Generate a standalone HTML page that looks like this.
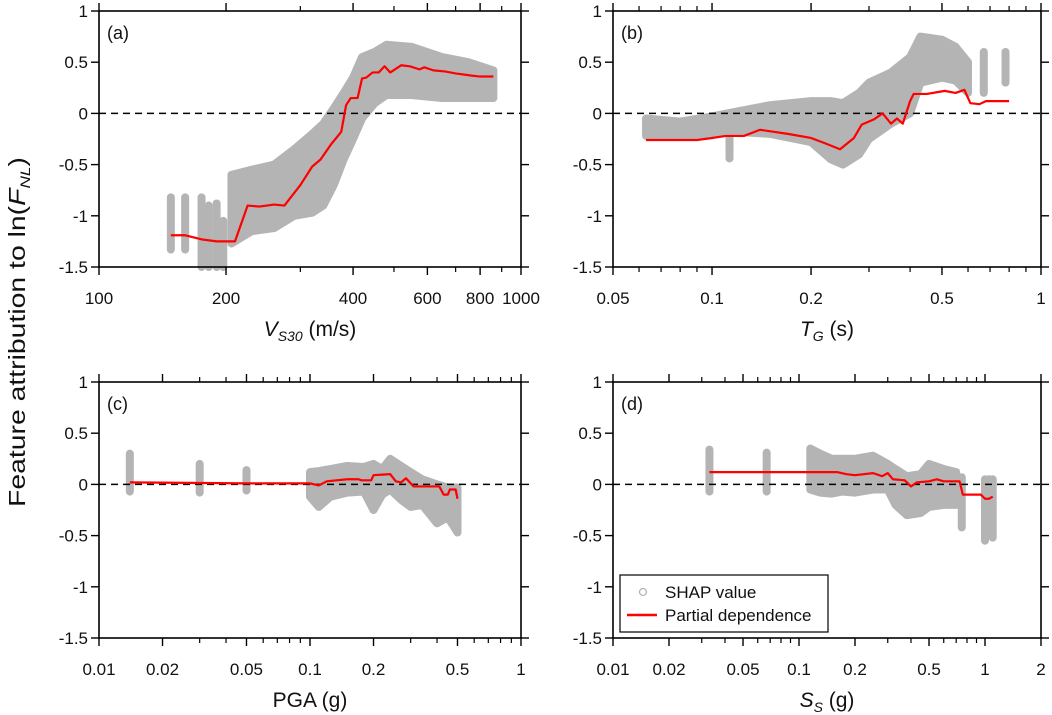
<!DOCTYPE html>
<html><head><meta charset="utf-8"><style>
html,body{margin:0;padding:0;background:#fff;}
svg{display:block;font-family:"Liberation Sans",Arial,sans-serif;}
</style></head><body>
<svg id="fig" width="1052" height="715" viewBox="0 0 1052 715">
<text transform="translate(25,332) rotate(-90)" text-anchor="middle" font-size="23" fill="#111" textLength="350" lengthAdjust="spacingAndGlyphs">Feature attribution to ln(<tspan font-style="italic">F</tspan><tspan font-style="italic" font-size="14" dy="5">NL</tspan><tspan dy="-5">)</tspan></text>
</svg>
<script>
// ---------- Panel (a) VS30 ----------
const aBarX=[148,160,175,182,190,197];
const aBarHi=[-0.82,-0.82,-0.82,-0.9,-0.88,-1.05];
const aBarLo=[-1.33,-1.33,-1.5,-1.5,-1.5,-1.5];
const aBandX=[206,230,260,290,320,340,360,380,400,420,450,480,550,650,750,860];
const aBandHi=[-0.6,-0.55,-0.5,-0.35,-0.2,-0.1,0.05,0.2,0.35,0.55,0.6,0.67,0.65,0.55,0.5,0.42];
const aBandLo=[-1.27,-1.15,-1.12,-1.0,-0.97,-0.9,-0.7,-0.45,-0.25,-0.05,0.1,0.18,0.18,0.15,0.15,0.15];
const aLineX=[148,160,175,190,210,225,240,260,275,300,320,335,355,375,385,395,410,420,430,445,460,475,490,520,545,575,590,620,660,700,760,800,860];
const aLineY=[-1.19,-1.19,-1.23,-1.25,-1.25,-0.9,-0.91,-0.89,-0.9,-0.7,-0.52,-0.45,-0.3,-0.18,0.08,0.15,0.15,0.34,0.35,0.4,0.4,0.46,0.4,0.47,0.46,0.43,0.45,0.42,0.41,0.39,0.37,0.36,0.36];
const aTicks=[100,200,400,600,800,1000];
const aMinor=[300,500,700,900];
// ---------- Panel (b) TG ----------
const bBarX=[0.113,0.67,0.78];
const bBarHi=[-0.2,0.6,0.6];
const bBarLo=[-0.44,0.2,0.3];
const bBandX=[0.063,0.08,0.1,0.12,0.15,0.2,0.23,0.25,0.28,0.3,0.35,0.4,0.43,0.5,0.55,0.6];
const bBandHi=[-0.05,-0.08,-0.03,0.02,0.08,0.12,0.12,0.1,0.2,0.3,0.4,0.55,0.75,0.72,0.65,0.5];
const bBandLo=[-0.22,-0.22,-0.2,-0.18,-0.2,-0.28,-0.45,-0.5,-0.4,-0.25,-0.1,0.0,0.3,0.35,0.32,0.2];
const bLineX=[0.063,0.09,0.1,0.11,0.125,0.14,0.17,0.2,0.22,0.245,0.27,0.285,0.31,0.33,0.35,0.365,0.38,0.4,0.41,0.45,0.51,0.55,0.585,0.61,0.65,0.68,0.8];
const bLineY=[-0.26,-0.26,-0.24,-0.22,-0.22,-0.16,-0.2,-0.24,-0.29,-0.35,-0.24,-0.11,-0.06,0,-0.1,-0.05,-0.1,0.12,0.19,0.19,0.22,0.2,0.23,0.1,0.09,0.12,0.12];
const bTicks=[0.05,0.1,0.2,0.5,1];
const bMinor=[0.06,0.07,0.08,0.09,0.3,0.4,0.6,0.7,0.8,0.9];
// ---------- Panel (c) PGA ----------
const cBarX=[0.014,0.03,0.05];
const cBarHi=[0.3,0.2,0.14];
const cBarLo=[-0.07,-0.08,-0.06];
const cBandX=[0.1,0.11,0.125,0.15,0.18,0.2,0.22,0.24,0.27,0.3,0.34,0.4,0.45,0.5];
const cBandHi=[0.12,0.13,0.15,0.18,0.17,0.2,0.15,0.25,0.18,0.12,0.05,0.0,-0.03,-0.03];
const cBandLo=[-0.12,-0.22,-0.12,-0.08,-0.07,-0.25,-0.1,-0.05,-0.15,-0.22,-0.2,-0.38,-0.32,-0.47];
const cLineX=[0.014,0.05,0.1,0.11,0.12,0.15,0.17,0.175,0.195,0.2,0.24,0.255,0.27,0.285,0.31,0.33,0.41,0.43,0.45,0.46,0.49,0.5];
const cLineY=[0.02,0.01,0.01,-0.01,0.03,0.05,0.05,0.04,0.04,0.09,0.1,0.03,0.02,0.06,-0.02,-0.02,-0.02,-0.1,-0.1,-0.05,-0.05,-0.14];
const cTicks=[0.01,0.02,0.05,0.1,0.2,0.5,1];
const cMinor=[0.03,0.04,0.06,0.07,0.08,0.09,0.3,0.4,0.6,0.7,0.8,0.9];
// ---------- Panel (d) SS ----------
const dBarX=[0.033,0.067,0.75,1.0,1.05,1.1];
const dBarHi=[0.34,0.31,0.07,0.05,0.05,0.05];
const dBarLo=[-0.07,-0.07,-0.42,-0.55,-0.5,-0.52];
const dBandX=[0.115,0.13,0.15,0.17,0.2,0.25,0.3,0.33,0.38,0.45,0.5,0.6,0.7];
const dBandHi=[0.35,0.3,0.25,0.25,0.25,0.28,0.2,0.15,0.08,0.1,0.2,0.15,0.12];
const dBandLo=[-0.05,-0.08,-0.09,-0.07,-0.08,-0.05,-0.05,-0.2,-0.3,-0.28,-0.22,-0.2,-0.2];
const dLineX=[0.033,0.16,0.18,0.2,0.25,0.28,0.3,0.32,0.37,0.4,0.43,0.5,0.55,0.6,0.73,0.76,0.95,1.0,1.05,1.1];
const dLineY=[0.12,0.12,0.1,0.09,0.11,0.08,0.11,0.05,0.04,-0.02,0.02,0.03,0.05,0.03,0.03,-0.1,-0.1,-0.14,-0.14,-0.12];
const dTicks=[0.01,0.02,0.05,0.1,0.2,0.5,1,2];
const dMinor=[0.03,0.04,0.06,0.07,0.08,0.09,0.3,0.4,0.6,0.7,0.8,0.9];
const yTicks=[1,0.5,0,-0.5,-1,-1.5];

const NS='http://www.w3.org/2000/svg';
const svg=document.getElementById('fig');
function mk(tag,attrs,parent){const e=document.createElementNS(NS,tag);for(const k in attrs)e.setAttribute(k,attrs[k]);(parent||svg).appendChild(e);return e;}
const GRAY='#b4b4b4';

function panel(o){
  const g=mk('g',{});
  
  
  const L=o.l,R=o.r,T=o.t,B=o.t+256;
  const lx=Math.log(o.x0),lx1=Math.log(o.x1);
  const X=v=>L+(Math.log(v)-lx)/(lx1-lx)*(R-L);
  const Y=v=>T+(1-v)/2.5*(B-T);
  for(let i=0;i<o.barX.length;i++){
    const b=mk('line',{x1:X(o.barX[i]),x2:X(o.barX[i]),y1:Y(o.barHi[i]),y2:Y(o.barLo[i]),stroke:GRAY,'stroke-width':8,'stroke-linecap':'round'},g);
    
    
  }
  let pts=[];
  for(let i=0;i<o.bandX.length;i++)pts.push(X(o.bandX[i])+','+Y(o.bandHi[i]));
  for(let i=o.bandX.length-1;i>=0;i--)pts.push(X(o.bandX[i])+','+Y(o.bandLo[i]));
  const band=mk('polygon',{points:pts.join(' '),fill:GRAY,stroke:GRAY,'stroke-width':8,'stroke-linejoin':'round'},g);
  
  
  const z=mk('line',{x1:L,x2:R,y1:Y(0),y2:Y(0),stroke:'#000','stroke-width':1.5,'stroke-dasharray':'7,5'},g);
  
  
  const lp=o.lineX.map((v,i)=>X(v)+','+Y(o.lineY[i])).join(' ');
  const pl=mk('polyline',{points:lp,fill:'none',stroke:'#ff0000','stroke-width':2.2,'stroke-linejoin':'round'},g);
  
  
  const f=mk('rect',{x:L,y:T,width:R-L,height:B-T,fill:'none',stroke:'#000','stroke-width':1.6},g);
  
  
  yTicks.forEach(v=>{
    mk('line',{x1:L-8,x2:L,y1:Y(v),y2:Y(v),stroke:'#000','stroke-width':1.4},g);
    mk('line',{x1:R,x2:R+8,y1:Y(v),y2:Y(v),stroke:'#000','stroke-width':1.4},g);
    const t=mk('text',{x:L-11,y:Y(v)+6,'text-anchor':'end','font-size':17,fill:'#111'},g);
    t.textContent=String(v);
    
    
  });
  o.ticks.forEach((v,i)=>{
    const x=X(v);
    mk('line',{x1:x,x2:x,y1:B,y2:B+8,stroke:'#000','stroke-width':1.4},g);
    mk('line',{x1:x,x2:x,y1:T-8,y2:T,stroke:'#000','stroke-width':1.4},g);
    const t=mk('text',{x:x,y:B+37,'text-anchor':'middle','font-size':17,fill:'#111'},g);
    t.textContent=String(v);
    
    
  });
  o.minor.forEach(v=>{
    const x=X(v);
    mk('line',{x1:x,x2:x,y1:B,y2:B+5,stroke:'#000','stroke-width':1.2},g);
    mk('line',{x1:x,x2:x,y1:T-5,y2:T,stroke:'#000','stroke-width':1.2},g);
  });
  const pt=mk('text',{x:L+8,y:T+28,'font-size':18,fill:'#111'},g);
  pt.textContent='('+o.id+')';
  
  
  const xt=mk('text',{x:(L+R)/2,y:B+69,'text-anchor':'middle','font-size':21,fill:'#111'},g);
  xt.innerHTML=o.title;
  
  
}
panel({id:'a',l:99,r:521,t:11,x0:100,x1:1000,barX:aBarX,barHi:aBarHi,barLo:aBarLo,bandX:aBandX,bandHi:aBandHi,bandLo:aBandLo,lineX:aLineX,lineY:aLineY,ticks:aTicks,minor:aMinor,
 title:'<tspan font-style="italic">V</tspan><tspan font-style="italic" font-size="14" dy="5">S30</tspan><tspan dy="-5"> (m/s)</tspan>'});
panel({id:'b',l:613,r:1041,t:11,x0:0.05,x1:1,barX:bBarX,barHi:bBarHi,barLo:bBarLo,bandX:bBandX,bandHi:bBandHi,bandLo:bBandLo,lineX:bLineX,lineY:bLineY,ticks:bTicks,minor:bMinor,
 title:'<tspan font-style="italic">T</tspan><tspan font-style="italic" font-size="14" dy="5">G</tspan><tspan dy="-5"> (s)</tspan>'});
panel({id:'c',l:99,r:521,t:382,x0:0.01,x1:1,barX:cBarX,barHi:cBarHi,barLo:cBarLo,bandX:cBandX,bandHi:cBandHi,bandLo:cBandLo,lineX:cLineX,lineY:cLineY,ticks:cTicks,minor:cMinor,
 title:'PGA (g)'});
panel({id:'d',l:613,r:1041,t:382,x0:0.01,x1:2,barX:dBarX,barHi:dBarHi,barLo:dBarLo,bandX:dBandX,bandHi:dBandHi,bandLo:dBandLo,lineX:dLineX,lineY:dLineY,ticks:dTicks,minor:dMinor,
 title:'<tspan font-style="italic">S</tspan><tspan font-style="italic" font-size="14" dy="5">S</tspan><tspan dy="-5"> (g)</tspan>'});

const lg=mk('g',{});


mk('rect',{x:620,y:575,width:208,height:57,fill:'#fff',stroke:'#000','stroke-width':1.2},lg);
mk('circle',{cx:643,cy:592,r:3.5,fill:'none',stroke:GRAY,'stroke-width':1.3},lg);
const l1=mk('text',{x:665,y:598,'font-size':17,fill:'#111'},lg);
l1.textContent='SHAP value';


mk('line',{x1:627,x2:657,y1:615,y2:615,stroke:'#ff0000','stroke-width':2.5},lg);
const l2=mk('text',{x:665,y:621,'font-size':17,fill:'#111'},lg);
l2.textContent='Partial dependence';


</script>
</body></html>
